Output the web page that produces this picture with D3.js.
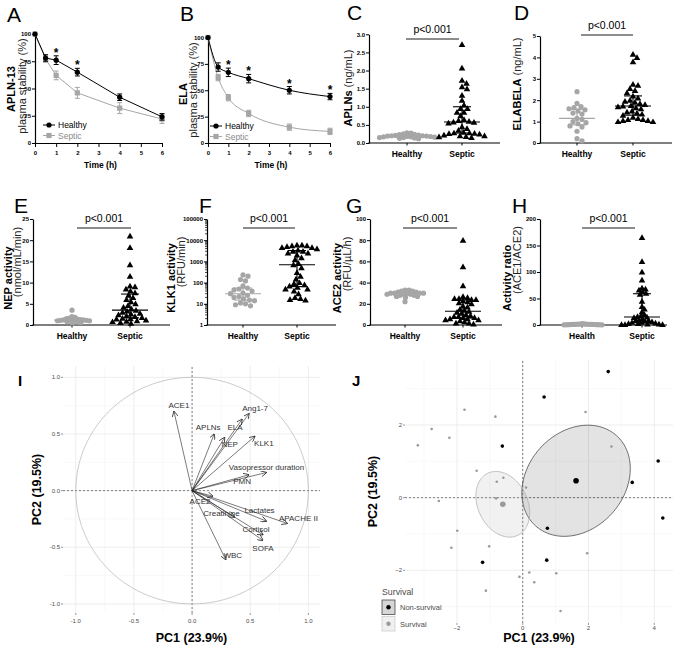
<!DOCTYPE html>
<html>
<head>
<meta charset="utf-8">
<script src="https://cdn.jsdelivr.net/npm/d3@7"></script>
<style>
  body { margin: 0; background: #fff; }
  svg { font-family: "Liberation Sans", Arial, sans-serif; }
</style>
</head>
<body>
<svg id="fig" width="685" height="649"></svg>
<script>
/* Data */
/* **** */

// A, B: plasma stability (% remaining) over time
var timeH = [0, 0.5, 1, 2, 4, 6];
var aplnHealthy = [100, 78, 76, 65, 42, 24];
var aplnHealthyErr = [0, 3, 4, 3.5, 3, 3];
var aplnSeptic = [100, 77, 62, 46, 32, 22];
var aplnSepticErr = [0, 3, 4, 5, 5, 4];
var elaHealthy = [100, 72, 67, 61, 50, 44];
var elaHealthyErr = [0, 4, 4, 4, 3.5, 3];
var elaSeptic = [100, 62, 43, 28, 15, 11];
var elaSepticErr = [0, 3, 3, 3, 3, 3];
var starsA = [1, 2];
var starsB = [1, 2, 4, 6];

// C-H: individual values per group
var groups = ['Healthy', 'Septic'];
var groupsH = ['Health', 'Septic'];
var aplnsHealthy = [0.28, 0.27, 0.25, 0.24, 0.23, 0.22, 0.21, 0.2, 0.2, 0.19, 0.19, 0.18, 0.18, 0.17, 0.17, 0.16, 0.15, 0.15, 0.14, 0.13, 0.12];
var aplnsSeptic = [2.72, 2.07, 1.73, 1.65, 1.55, 1.5, 1.32, 1.18, 1.05, 0.95, 0.95, 0.85, 0.85, 0.75, 0.65, 0.62, 0.6, 0.58, 0.57, 0.55, 0.45, 0.4, 0.35, 0.3, 0.28, 0.28, 0.27, 0.26, 0.25, 0.22, 0.2, 0.2, 0.18, 0.17, 0.15];
var elabelaHealthy = [2.4, 1.85, 1.7, 1.65, 1.6, 1.55, 1.5, 1.4, 1.35, 1.15, 1.1, 1.0, 0.95, 0.9, 0.8, 0.75, 0.55, 0.2, 0.1];
var elabelaSeptic = [4.15, 4.0, 3.8, 2.75, 2.7, 2.55, 2.45, 2.35, 2.2, 2.1, 2.0, 1.95, 1.9, 1.85, 1.8, 1.75, 1.73, 1.7, 1.65, 1.6, 1.5, 1.45, 1.4, 1.35, 1.3, 1.2, 1.15, 1.1, 1.1, 1.05, 1.05, 1.0, 1.0];
var nepHealthy = [3.5, 2.0, 1.8, 1.6, 1.5, 1.4, 1.3, 1.3, 1.2, 1.2, 1.1, 1.1, 1.0, 1.0, 0.9, 0.9, 0.8, 0.7, 0.6, 0.5];
var nepSeptic = [21, 18.3, 14.2, 11.5, 9.2, 9.0, 8.5, 8.0, 7.6, 7.0, 6.5, 6.0, 5.5, 5.0, 4.6, 4.2, 3.8, 3.5, 3.3, 3.0, 2.8, 2.6, 2.4, 2.2, 2.0, 1.8, 1.6, 1.5, 1.4, 1.2, 1.0, 0.9, 0.8, 0.6, 0.4];
var klk1Healthy = [230, 200, 140, 120, 70, 55, 50, 45, 40, 32, 30, 25, 22, 20, 17, 15, 14, 11, 10, 9, 8];
var klk1Septic = [6000, 6000, 5500, 5500, 5000, 4500, 4500, 4000, 3500, 3000, 3000, 2500, 2500, 2000, 1500, 1200, 800, 700, 500, 300, 200, 150, 100, 90, 80, 70, 60, 50, 50, 40, 30, 20, 18, 16, 15];
var ace2Healthy = [33, 33, 32, 32, 31, 31, 30, 30, 30, 30, 30, 29, 29, 29, 28, 28, 27, 27, 26, 22];
var ace2Septic = [80, 55, 37, 27, 26, 25, 25, 24, 24, 23, 22, 21, 20, 18, 17, 15, 14, 13, 12, 11, 10, 9, 8, 8, 7, 7, 6, 6, 5, 5, 4, 3, 2, 2, 1];
var ratioHealthy = [2.5, 2, 1.8, 1.6, 1.5, 1.4, 1.3, 1.2, 1.1, 1, 1, 0.9, 0.8, 0.8, 0.7, 0.6, 0.5, 0.5, 0.4, 0.3];
var ratioSeptic = [165, 120, 100, 85, 70, 68, 66, 63, 60, 58, 45, 35, 30, 25, 20, 18, 16, 15, 14, 12, 10, 9, 8, 7, 6, 5, 5, 4, 3, 3, 2, 2, 1, 1, 1];

// I: PCA variable loadings
var pcaVars = ['ACE1', 'Ang1-7', 'ELA', 'APLNs', 'NEP', 'KLK1', 'Vasopressor duration', 'PMN', 'ACE2', 'Creatinine', 'Lactates', 'APACHE II', 'Cortisol', 'SOFA', 'WBC'];
var pcaVarPC1 = [-0.156, 0.49, 0.43, 0.19, 0.28, 0.54, 0.64, 0.49, 0.18, 0.365, 0.64, 0.82, 0.61, 0.61, 0.29];
var pcaVarPC2 = [0.70, 0.68, 0.63, 0.50, 0.47, 0.48, 0.16, 0.14, -0.05, -0.235, -0.27, -0.29, -0.39, -0.44, -0.61];

// J: PCA individuals by survival
var nonSurvPC1 = [2.60, 0.65, -0.62, 4.12, 3.33, 4.26, 0.75, 0.73, -1.22];
var nonSurvPC2 = [3.47, 2.77, 1.42, 1.01, 0.42, -0.56, -0.84, -1.72, -1.78];
var survPC1 = [-1.77, -0.83, -2.77, -2.23, -3.19, 1.91, 2.70, -1.40, -0.79, -0.59, 0.10, -0.81, -2.55, -1.99, -2.17, -1.02, 1.96, 0.20, -0.10, 0.35, 1.02, -1.12, 1.15];
var survPC2 = [2.42, 2.23, 1.89, 1.65, 1.44, 2.36, 1.41, 0.74, 0.44, 0.55, 0.28, -0.02, -0.09, -0.91, -1.38, -1.34, -1.53, -2.06, -2.18, -2.33, -2.08, -2.56, -3.12];


/* Helpers */
/* ******* */
var svg = d3.select('#fig');
var GREY = '#a6a6a6';
var fmtInt = d3.format('d');

var letter = function(txt, x, y, size, weight) {
    svg.append('text')
        .attr('x', x).attr('y', y)
        .attr('font-size', size)
        .attr('font-weight', weight || 'normal')
        .text(txt);
};

// rotated axis title, parts = [{text, bold}]
var rotLabel = function(x, y, parts, size) {
    var t = svg.append('text')
        .attr('transform', 'translate(' + x + ',' + y + ') rotate(-90)')
        .attr('text-anchor', 'middle')
        .attr('dominant-baseline', 'central')
        .attr('font-size', size || 11);
    parts.forEach(function(p) {
        t.append('tspan')
            .attr('font-weight', p.bold ? 'bold' : 'normal')
            .attr('fill', p.bold ? '#000' : '#222')
            .text(p.text);
    });
};

var prismAxis = function(g) {
    g.attr('font-size', 6).attr('font-family', null).attr('font-weight', 'bold');
    g.select('.domain').attr('stroke-width', 1.2);
    g.selectAll('.tick line').attr('stroke-width', 1);
};

var marker = function(g, shape, color, cx, cy) {
    if (shape === 'circle') {
        g.append('circle').attr('cx', cx).attr('cy', cy).attr('r', 2.6).attr('fill', color);
    } else if (shape === 'square') {
        g.append('rect').attr('x', cx - 2.6).attr('y', cy - 2.6).attr('width', 5.2).attr('height', 5.2).attr('fill', color);
    } else {
        g.append('path').attr('transform', 'translate(' + cx + ',' + (cy + 0.6) + ')')
            .attr('d', d3.symbol().type(d3.symbolTriangle).size(19)()).attr('fill', color);
    }
};

// simple beeswarm: horizontal offsets so points of diameter diam do not overlap
var swarm = function(vals, y, diam) {
    var pts = vals.map(function(v) { return { v: v, py: y(v), dx: 0 }; });
    pts.sort(function(a, b) { return a.py - b.py; });
    var placed = [];
    pts.forEach(function(p) {
        for (var k = 0; k < 400; k++) {
            var off = (k % 2 ? 1 : -1) * Math.ceil(k / 2) * 0.5;
            var clear = placed.every(function(q) {
                var ddx = q.dx - off, ddy = q.py - p.py;
                return ddx * ddx + ddy * ddy >= diam * diam;
            });
            if (clear) { p.dx = off; break; }
        }
        placed.push(p);
    });
    return pts;
};


/* A, B: stability curves */
/* ********************** */
var stabilityPanel = function(p) {
    var x = d3.scaleLinear().domain([0, 6]).range([p.x0, p.x1]);
    var y = d3.scaleLinear().domain([0, 100]).range([p.yBot, p.yTop]);

    svg.append('g').attr('transform', 'translate(0,' + p.yBot + ')')
        .call(d3.axisBottom(x).tickValues(d3.range(0, 7)).tickFormat(fmtInt).tickSize(4).tickSizeOuter(0).tickPadding(4))
        .call(prismAxis);
    svg.append('g').attr('transform', 'translate(' + p.x0 + ',0)')
        .call(d3.axisLeft(y).tickValues([0, 25, 50, 75, 100]).tickFormat(fmtInt).tickSize(3).tickSizeOuter(0).tickPadding(1))
        .call(prismAxis);
    svg.append('text')
        .attr('x', (p.x0 + p.x1) / 2 + 2).attr('y', p.yBot + 25)
        .attr('text-anchor', 'middle').attr('font-size', 8.5).attr('font-weight', 'bold')
        .text('Time (h)');

    var series = [
        { vals: p.septic, err: p.septicErr, color: GREY, shape: 'square', name: 'Septic' },
        { vals: p.healthy, err: p.healthyErr, color: '#000', shape: 'circle', name: 'Healthy' }
    ];
    var line = d3.line()
        .x(function(d, i) { return x(timeH[i]); })
        .y(function(d) { return y(d); })
        .curve(p.curve);

    series.forEach(function(s) {
        svg.append('path').attr('d', line(s.vals))
            .attr('fill', 'none').attr('stroke', s.color).attr('stroke-width', 1);
        var g = svg.append('g').attr('stroke', s.color).attr('stroke-width', 1);
        s.vals.forEach(function(v, i) {
            if (!s.err[i]) return;
            var cx = x(timeH[i]);
            g.append('line').attr('x1', cx).attr('x2', cx)
                .attr('y1', y(v - s.err[i])).attr('y2', y(v + s.err[i]));
            [v - s.err[i], v + s.err[i]].forEach(function(e) {
                g.append('line').attr('x1', cx - 2.5).attr('x2', cx + 2.5).attr('y1', y(e)).attr('y2', y(e));
            });
        });
        var mg = svg.append('g');
        s.vals.forEach(function(v, i) { marker(mg, s.shape, s.color, x(timeH[i]), y(v)); });
    });

    // significance stars above healthy error bars
    p.stars.forEach(function(t) {
        var i = timeH.indexOf(t);
        svg.append('text')
            .attr('x', x(t)).attr('y', y(p.healthy[i] + p.healthyErr[i]) + 1)
            .attr('text-anchor', 'middle').attr('font-size', 12).attr('font-weight', 'bold')
            .text('*');
    });

    // legend
    series.slice().reverse().forEach(function(s, k) {
        var ly = p.legY + k * 10.5;
        svg.append('line').attr('x1', p.legX).attr('x2', p.legX + 12).attr('y1', ly).attr('y2', ly)
            .attr('stroke', s.color).attr('stroke-width', 1);
        marker(svg, s.shape, s.color, p.legX + 6, ly);
        svg.append('text').attr('x', p.legX + 15).attr('y', ly + 3)
            .attr('font-size', 8.5).attr('fill', s.color === GREY ? '#8a8a8a' : '#000')
            .text(s.name);
    });
};

stabilityPanel({ x0: 35, x1: 162, yTop: 34, yBot: 143, healthy: aplnHealthy, healthyErr: aplnHealthyErr,
    septic: aplnSeptic, septicErr: aplnSepticErr, stars: starsA, curve: d3.curveLinear, legX: 43, legY: 125 });
stabilityPanel({ x0: 208, x1: 330, yTop: 37.5, yBot: 143, healthy: elaHealthy, healthyErr: elaHealthyErr,
    septic: elaSeptic, septicErr: elaSepticErr, stars: starsB, curve: d3.curveMonotoneX, legX: 210, legY: 126 });

rotLabel(11, 89, [{ text: 'APLN-13', bold: true }]);
rotLabel(22, 86, [{ text: 'plasma stability (%)' }]);
rotLabel(183, 94, [{ text: 'ELA', bold: true }]);
rotLabel(193, 90, [{ text: 'plasma stability (%)' }]);


/* C-H: scatter dot plots with median and IQR */
/* ****************************************** */
var dotPanel = function(p) {
    var y = (p.log ? d3.scaleLog() : d3.scaleLinear()).domain(p.domain).range([p.yBot, p.yTop]);
    var x = d3.scalePoint().domain(p.cats).range(p.cx);

    var ax = d3.axisLeft(y).tickValues(p.ticks).tickFormat(p.fmt || fmtInt)
        .tickSize(3).tickSizeOuter(0).tickPadding(1);
    var gy = svg.append('g').attr('transform', 'translate(' + p.x0 + ',0)').call(ax).call(prismAxis);
    if (p.log) {
        var minor = [];
        p.ticks.slice(0, -1).forEach(function(t) { d3.range(2, 10).forEach(function(m) { minor.push(t * m); }); });
        gy.selectAll('.minor').data(minor).enter().append('line')
            .attr('x1', -2).attr('x2', 0).attr('y1', y).attr('y2', y)
            .attr('stroke', '#000').attr('stroke-width', 0.7);
    }

    svg.append('line').attr('x1', p.x0 - 0.6).attr('x2', p.x1).attr('y1', p.yBot).attr('y2', p.yBot)
        .attr('stroke', '#000').attr('stroke-width', 1.2);
    p.cats.forEach(function(c) {
        svg.append('line').attr('x1', x(c)).attr('x2', x(c)).attr('y1', p.yBot).attr('y2', p.yBot + 2.5)
            .attr('stroke', '#000').attr('stroke-width', 1);
        svg.append('text').attr('x', x(c)).attr('y', p.yBot + 14)
            .attr('text-anchor', 'middle').attr('font-size', 8.5).attr('font-weight', 'bold')
            .text(c);
    });

    var sets = [
        { vals: p.values[0], color: GREY, shape: 'circle', diam: p.diam[0] },
        { vals: p.values[1], color: '#000', shape: 'triangle', diam: p.diam[1] }
    ];
    sets.forEach(function(s, k) {
        var cx = x(p.cats[k]);
        var g = svg.append('g');
        swarm(s.vals, y, s.diam).forEach(function(d) { marker(g, s.shape, s.color, cx + d.dx, d.py); });

        var sorted = s.vals.slice().sort(d3.ascending);
        var q1 = d3.quantile(sorted, 0.25), q2 = d3.quantile(sorted, 0.5), q3 = d3.quantile(sorted, 0.75);
        var lg = svg.append('g').attr('stroke', s.color).attr('stroke-width', 1.1);
        lg.append('line').attr('x1', cx).attr('x2', cx).attr('y1', y(q1)).attr('y2', y(q3));
        lg.append('line').attr('x1', cx - 18).attr('x2', cx + 18).attr('y1', y(q2)).attr('y2', y(q2));
        [q1, q3].forEach(function(q) {
            lg.append('line').attr('x1', cx - 9).attr('x2', cx + 9).attr('y1', y(q)).attr('y2', y(q));
        });
    });

    svg.append('line').attr('x1', p.pLine[0]).attr('x2', p.pLine[1]).attr('y1', p.pY).attr('y2', p.pY)
        .attr('stroke', '#000').attr('stroke-width', 0.9);
    svg.append('text').attr('x', (p.pLine[0] + p.pLine[1]) / 2).attr('y', p.pY - 6)
        .attr('text-anchor', 'middle').attr('font-size', 10.5)
        .text('p<0.001');
};

dotPanel({ x0: 369, x1: 500, cx: [407, 462], yTop: 34.3, yBot: 143, domain: [0, 3], ticks: d3.range(0, 3.01, 0.5), fmt: d3.format('.1f'),
    cats: groups, values: [aplnsHealthy, aplnsSeptic], diam: [3.6, 5], pLine: [406, 459], pY: 39 });
dotPanel({ x0: 540, x1: 672, cx: [577, 633], yTop: 36, yBot: 143, domain: [0, 5], ticks: d3.range(0, 6),
    cats: groups, values: [elabelaHealthy, elabelaSeptic], diam: [5, 5], pLine: [581, 633], pY: 35 });
dotPanel({ x0: 33, x1: 170, cx: [72, 130], yTop: 219, yBot: 325, domain: [0, 25], ticks: d3.range(0, 26, 5),
    cats: groups, values: [nepHealthy, nepSeptic], diam: [3, 4.6], pLine: [77, 131], pY: 228 });
dotPanel({ x0: 207, x1: 336, cx: [243, 297], yTop: 219, yBot: 325, domain: [1, 100000], log: true,
    ticks: [1, 10, 100, 1000, 10000, 100000],
    cats: groups, values: [klk1Healthy, klk1Septic], diam: [5, 5], pLine: [243, 295], pY: 228 });
dotPanel({ x0: 370, x1: 502, cx: [405, 463], yTop: 219, yBot: 325, domain: [0, 100], ticks: d3.range(0, 101, 20),
    cats: groups, values: [ace2Healthy, ace2Septic], diam: [3.6, 4.2], pLine: [403, 457], pY: 228 });
dotPanel({ x0: 540, x1: 667, cx: [582, 642], yTop: 219, yBot: 325, domain: [0, 200], ticks: d3.range(0, 201, 50),
    cats: groupsH, values: [ratioHealthy, ratioSeptic], diam: [2, 3.4], pLine: [582, 635], pY: 228 });

rotLabel(348, 88, [{ text: 'APLNs', bold: true }, { text: ' (ng/mL)' }]);
rotLabel(517, 84, [{ text: 'ELABELA', bold: true }, { text: ' (ng/mL)' }]);
rotLabel(8, 278, [{ text: 'NEP activity', bold: true }]);
rotLabel(17, 262, [{ text: '(nmol/mL/min)' }]);
rotLabel(171, 278, [{ text: 'KLK1 activity', bold: true }]);
rotLabel(181, 262, [{ text: '(RFU/min)' }]);
rotLabel(337, 278, [{ text: 'ACE2 activity', bold: true }]);
rotLabel(347, 264, [{ text: '(RFU/\u00b5L/h)' }]);
rotLabel(507, 278, [{ text: 'Activity ratio', bold: true }]);
rotLabel(517, 260, [{ text: '(ACE1/ACE2)' }]);

letter('A', 7, 22, 21); letter('B', 180, 21, 21); letter('C', 347, 20, 21); letter('D', 514, 20, 21);
letter('E', 14, 213, 21); letter('F', 199, 213, 21); letter('G', 346, 213, 21); letter('H', 512, 213, 21);


/* I, J: PCA panels (ggplot minimal theme) */
/* *************************************** */
var ggFrame = function(x, y, xMajor, xMinor, yMajor, yMinor, fmt, title, tickGap) {
    var xr = x.range(), yr = y.range();
    var g = svg.append('g');
    var vline = function(v, c, w) {
        g.append('line').attr('x1', x(v)).attr('x2', x(v)).attr('y1', yr[0]).attr('y2', yr[1]).attr('stroke', c).attr('stroke-width', w);
    };
    var hline = function(v, c, w) {
        g.append('line').attr('x1', xr[0]).attr('x2', xr[1]).attr('y1', y(v)).attr('y2', y(v)).attr('stroke', c).attr('stroke-width', w);
    };
    xMinor.forEach(function(v) { vline(v, '#f2f2f2', 0.5); });
    yMinor.forEach(function(v) { hline(v, '#f2f2f2', 0.5); });
    xMajor.forEach(function(v) { vline(v, '#e8e8e8', 0.8); });
    yMajor.forEach(function(v) { hline(v, '#e8e8e8', 0.8); });

    xMajor.forEach(function(v) {
        g.append('line').attr('x1', x(v)).attr('x2', x(v)).attr('y1', yr[0]).attr('y2', yr[0] + 2).attr('stroke', '#333').attr('stroke-width', 0.5);
        g.append('text').attr('x', x(v)).attr('y', yr[0] + tickGap).attr('text-anchor', 'middle')
            .attr('font-size', 6).attr('fill', '#4d4d4d').text(fmt(v));
    });
    yMajor.forEach(function(v) {
        g.append('line').attr('x1', xr[0] - 2).attr('x2', xr[0]).attr('y1', y(v)).attr('y2', y(v)).attr('stroke', '#333').attr('stroke-width', 0.5);
        g.append('text').attr('x', xr[0] - 3).attr('y', y(v) + 2).attr('text-anchor', 'end')
            .attr('font-size', 6).attr('fill', '#4d4d4d').text(fmt(v));
    });

    g.append('line').attr('x1', x(0)).attr('x2', x(0)).attr('y1', yr[0]).attr('y2', yr[1])
        .attr('stroke', '#333').attr('stroke-width', 0.6).attr('stroke-dasharray', '2,2');
    g.append('line').attr('x1', xr[0]).attr('x2', xr[1]).attr('y1', y(0)).attr('y2', y(0))
        .attr('stroke', '#333').attr('stroke-width', 0.6).attr('stroke-dasharray', '2,2');

    svg.append('text').attr('x', (xr[0] + xr[1]) / 2).attr('y', 642).attr('text-anchor', 'middle')
        .attr('font-size', 12.5).attr('font-weight', 'bold').text('PC1 (23.9%)');
    rotLabel(title, (yr[0] + yr[1]) / 2, [{ text: 'PC2 (19.5%)', bold: true }], 12.5);
    return g;
};

// I: correlation circle
var xI = d3.scaleLinear().domain([-1.11, 1.1]).range([63, 320]);
var yI = d3.scaleLinear().domain([-1.08, 1.1]).range([613, 366]);
var fmtI = function(v) { return d3.format('.1f')(v).replace('\u2212', '-'); };
ggFrame(xI, yI, [-1, -0.5, 0, 0.5, 1], [-0.75, -0.25, 0.25, 0.75], [-1, -0.5, 0, 0.5, 1], [-0.75, -0.25, 0.25, 0.75], fmtI, 37, 10);

var circ = d3.range(0, 2 * Math.PI + 0.01, Math.PI / 90).map(function(t) { return [Math.cos(t), Math.sin(t)]; });
svg.append('path')
    .attr('d', d3.line().x(function(d) { return xI(d[0]); }).y(function(d) { return yI(d[1]); })(circ))
    .attr('fill', 'none').attr('stroke', '#b5b5b5').attr('stroke-width', 0.7);

svg.append('defs').append('marker')
    .attr('id', 'arrowhead').attr('viewBox', '0 0 8 8').attr('refX', 7.5).attr('refY', 4)
    .attr('markerWidth', 6).attr('markerHeight', 6).attr('orient', 'auto').attr('markerUnits', 'userSpaceOnUse')
    .append('path').attr('d', 'M0,0 L8,4 L0,8').attr('fill', 'none').attr('stroke', '#222').attr('stroke-width', 1);

// label offsets from arrow tips (px), layout only
var varLabelNudge = {
    'ACE1': [5, -6], 'Ang1-7': [6, -5], 'ELA': [-7, 8], 'APLNs': [-6, -6], 'NEP': [5, 7], 'KLK1': [9, 7],
    'Vasopressor duration': [0, -5], 'PMN': [-7, 7], 'ACE2': [-13, 5], 'Creatinine': [-13, -4],
    'Lactates': [-7, -11], 'APACHE II': [11, -5], 'Cortisol': [-7, -5], 'SOFA': [0, 8], 'WBC': [7, -4]
};
pcaVars.forEach(function(name, i) {
    var tx = xI(pcaVarPC1[i]), ty = yI(pcaVarPC2[i]);
    svg.append('line').attr('x1', xI(0)).attr('y1', yI(0)).attr('x2', tx).attr('y2', ty)
        .attr('stroke', '#222').attr('stroke-width', 0.6).attr('marker-end', 'url(#arrowhead)');
    var nd = varLabelNudge[name];
    svg.append('text').attr('x', tx + nd[0]).attr('y', ty + nd[1])
        .attr('text-anchor', 'middle').attr('dominant-baseline', 'central')
        .attr('font-size', 8).attr('fill', '#333').text(name);
});
letter('I', 18, 386, 15, 'bold');

// J: individuals with 95% confidence ellipses of group means
var xJ = d3.scaleLinear().domain([-3.58, 4.57]).range([405, 673]);
var yJ = d3.scaleLinear().domain([-3.45, 3.79]).range([623, 360]);
ggFrame(xJ, yJ, [-2, 0, 2, 4], [-3, -1, 1, 3], [-2, 0, 2], [-3, -1, 1, 3], fmtInt, 373, 7);

var confEllipse = function(px, py) {
    var n = px.length, mx = d3.mean(px), my = d3.mean(py);
    var sxx = d3.variance(px) / n, syy = d3.variance(py) / n;
    var sxy = d3.sum(px.map(function(v, i) { return (v - mx) * (py[i] - my); })) / (n - 1) / n;
    var k = Math.sqrt(5.991);
    var l11 = Math.sqrt(sxx), l21 = sxy / l11, l22 = Math.sqrt(syy - l21 * l21);
    var pts = d3.range(0, 2 * Math.PI + 0.01, Math.PI / 90).map(function(t) {
        var c = Math.cos(t), s = Math.sin(t);
        return [mx + k * l11 * c, my + k * (l21 * c + l22 * s)];
    });
    return { mx: mx, my: my, pts: pts };
};
var ellLine = d3.line().x(function(d) { return xJ(d[0]); }).y(function(d) { return yJ(d[1]); });
var groupsJ = [
    { x: nonSurvPC1, y: nonSurvPC2, color: '#000', stroke: '#4a4a4a', fillOp: 0.11, r: 1.8 },
    { x: survPC1, y: survPC2, color: '#9a9a9a', stroke: '#b0b0b0', fillOp: 0.14, r: 1.3 }
];
groupsJ.forEach(function(gr) {
    var e = confEllipse(gr.x, gr.y);
    svg.append('path').attr('d', ellLine(e.pts))
        .attr('fill', gr.color).attr('fill-opacity', gr.fillOp)
        .attr('stroke', gr.stroke).attr('stroke-width', 0.8);
    gr.mean = e;
});
groupsJ.forEach(function(gr) {
    gr.x.forEach(function(v, i) {
        svg.append('circle').attr('cx', xJ(v)).attr('cy', yJ(gr.y[i])).attr('r', gr.r).attr('fill', gr.color);
    });
    svg.append('circle').attr('cx', xJ(gr.mean.mx)).attr('cy', yJ(gr.mean.my)).attr('r', 2.8).attr('fill', gr.color);
});

// legend
svg.append('text').attr('x', 382).attr('y', 595).attr('font-size', 8.8).attr('fill', '#4d4d4d').text('Survival');
var legJ = [
    { name: 'Non-survival', fill: '#d6d6d6', stroke: '#4a4a4a', dot: '#000' },
    { name: 'Survival', fill: '#f0f0f0', stroke: '#cccccc', dot: '#9a9a9a' }
];
legJ.forEach(function(l, k) {
    var top = 600 + k * 16.5;
    svg.append('rect').attr('x', 382).attr('y', top).attr('width', 13).attr('height', 14.5)
        .attr('fill', l.fill).attr('stroke', l.stroke).attr('stroke-width', 0.8);
    svg.append('circle').attr('cx', 388.5).attr('cy', top + 7.25).attr('r', 2.2).attr('fill', l.dot);
    svg.append('text').attr('x', 400).attr('y', top + 10).attr('font-size', 7.5).attr('fill', '#4d4d4d').text(l.name);
});
letter('J', 352, 386, 15, 'bold');
</script>
</body>
</html>
